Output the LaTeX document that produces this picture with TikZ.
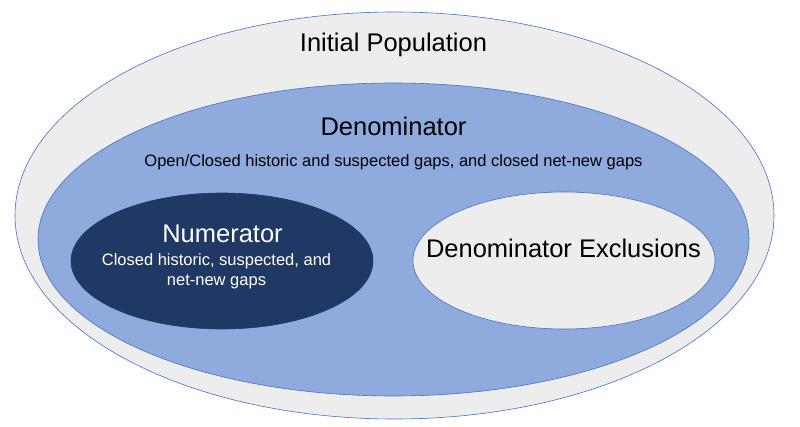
\documentclass[tikz,border=0pt]{standalone}
\usepackage{fontspec}
\setmainfont{Liberation Sans}
\usetikzlibrary{shapes.geometric}
\definecolor{lightgrey}{HTML}{EDEDED}
\definecolor{edgeblue}{HTML}{4472C4}
\definecolor{midblue}{HTML}{8FAADC}
\definecolor{darkblue}{HTML}{203864}
\tikzset{
  blob/.style={ellipse, inner sep=0pt, draw=edgeblue, line width=0.6pt},
  bigtext/.style={font=\fontsize{25.5}{30}\selectfont, inner sep=0pt, anchor=base},
  smalltext/.style={font=\fontsize{16.5}{20}\selectfont, inner sep=0pt, anchor=base, align=center}
}
\begin{document}
\begin{tikzpicture}[x=1pt,y=-1pt]
\useasboundingbox (0,0) rectangle (800,427);
\node[blob, fill=lightgrey, minimum width=759pt, minimum height=407pt] (init) at (394.5,215.5) {};
\node[blob, fill=midblue, minimum width=711pt, minimum height=313pt] (denom) at (393.5,239.5) {};
\node[blob, fill=darkblue, draw=darkblue, minimum width=302pt, minimum height=136pt] (numer) at (222,261) {};
\node[blob, fill=lightgrey, minimum width=302pt, minimum height=137pt] (excl) at (564,260.5) {};
\node[bigtext] (inittitle) at (393.5,52) {Initial Population};
\node[bigtext] (denomtitle) at (393.5,136) {Denominator};
\node[smalltext] (denomsub) at (393.5,167) {Open/Closed historic and suspected gaps, and closed net-new gaps};
\node[bigtext, text=white] (numertitle) at (222.5,243) {Numerator};
\node[smalltext, text=white] (numersub) at (216.5,286) {Closed historic, suspected, and\\net-new gaps};
\node[bigtext] (excltitle) at (563.5,258) {Denominator Exclusions};
\end{tikzpicture}
\end{document}
